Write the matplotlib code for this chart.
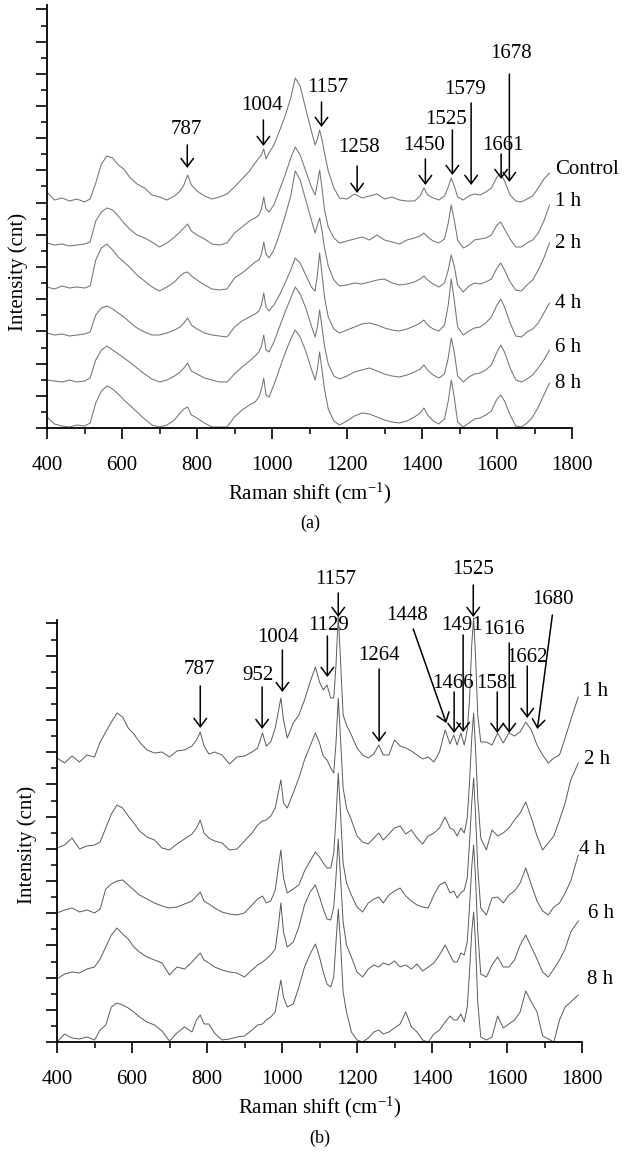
import matplotlib
matplotlib.use("Agg")
import matplotlib.pyplot as plt
from matplotlib.ticker import MultipleLocator


# 1. Panel (a): Raman shift grid and spectra (counts above each trace's own baseline)
shift_a = [400, 420, 440, 460, 480, 500, 515, 530, 545, 560,
           575, 590, 605, 620, 640, 660, 680, 700, 720, 740,
           755, 765, 775, 785, 800, 820, 840, 860, 880, 900,
           920, 940, 955, 965, 972, 978, 984, 992, 1005, 1020,
           1035, 1050, 1062, 1075, 1090, 1105, 1115, 1121, 1127, 1133,
           1140, 1150, 1165, 1180, 1200, 1220, 1240, 1260, 1280, 1300,
           1320, 1340, 1360, 1380, 1395, 1405, 1415, 1430, 1445, 1460,
           1470, 1478, 1486, 1495, 1510, 1525, 1540, 1555, 1570, 1585,
           1600, 1610, 1620, 1635, 1650, 1665, 1680, 1695, 1710, 1725,
           1740]

a_control = [9, 1, 3, 0, 2, -1, 2, 18, 37, 45,
             43, 36, 32, 24, 17, 13, 6, 4, 1, 5,
             10, 16, 26, 16, 10, 5, 2, 4, 7, 14,
             22, 30, 38, 43, 46, 52, 42, 48, 56, 70,
             85, 103, 123, 115, 92, 70, 56, 62, 71, 62,
             48, 30, 13, 3, 2, 7, 3, 5, 7, 2,
             4, 1, 0, 0, 5, 13, 6, 3, 1, 5,
             14, 23, 15, 4, 1, 5, 7, 6, 9, 13,
             24, 28, 20, 6, 0, -1, 2, 5, 13, 22,
             28]
a_1h = [2, 0, 1, -1, 0, 1, 3, 24, 33, 37,
        35, 29, 22, 16, 10, 7, 3, -2, 2, 8,
        13, 17, 21, 14, 10, 6, 1, 0, 2, 12,
        18, 24, 27, 30, 36, 48, 36, 33, 40, 55,
        70, 87, 98, 90, 74, 58, 50, 62, 75, 58,
        35, 18, 7, 2, 4, 6, 8, 5, 10, 5,
        3, 1, 5, 7, 9, 12, 8, 4, 2, 6,
        22, 40, 25, 5, -3, 0, 5, 6, 7, 10,
        20, 23, 16, 6, -2, -2, 2, 5, 12, 24,
        40]
a_2h = [1, -1, 2, 0, 1, 0, 2, 28, 40, 44,
        38, 31, 26, 21, 13, 7, 1, -3, 1, 6,
        12, 15, 16, 12, 8, 3, -1, -2, -1, 10,
        15, 21, 26, 28, 34, 46, 34, 30, 38, 54,
        72, 92, 117, 108, 88, 68, 55, 63, 70, 58,
        40, 22, 8, 2, 3, 5, 4, 6, 8, 9,
        5, 3, 4, 6, 9, 12, 8, 4, 1, 5,
        18, 33, 22, 3, -4, 2, 5, 4, 6, 9,
        20, 25, 18, 6, -2, -3, 3, 8, 18, 30,
        45]
a_4h = [2, 0, 1, -1, 0, 1, 3, 20, 27, 29,
        26, 22, 18, 13, 7, 3, 0, 0, 2, 5,
        8, 12, 17, 10, 6, 2, 0, -1, -2, 8,
        14, 18, 21, 24, 30, 42, 28, 24, 30, 40,
        52, 65, 77, 72, 60, 48, 44, 60, 82, 62,
        38, 18, 6, 2, 5, 8, 11, 12, 10, 7,
        5, 4, 6, 9, 12, 15, 10, 6, 4, 10,
        30, 56, 35, 8, 0, 4, 7, 8, 12, 18,
        30, 36, 28, 12, -1, -2, 3, 6, 12, 22,
        32]
a_6h = [2, 1, 0, 2, 0, 1, 4, 22, 32, 36,
        32, 28, 24, 20, 14, 8, 3, 0, 2, 6,
        10, 14, 19, 11, 8, 4, 2, 0, 0, 8,
        15, 21, 26, 30, 36, 47, 32, 30, 40, 55,
        70, 84, 95, 88, 74, 56, 45, 55, 72, 56,
        36, 18, 6, 3, 6, 10, 12, 14, 11, 8,
        6, 5, 7, 10, 13, 17, 12, 7, 4, 8,
        24, 44, 30, 6, 0, 5, 8, 9, 12, 17,
        30, 37, 30, 14, 2, 0, 3, 7, 14, 22,
        32]
a_8h = [10, 3, 1, 0, 2, 1, 4, 24, 36, 41,
        38, 33, 27, 22, 15, 8, 2, 0, 2, 7,
        14, 18, 20, 12, 9, 4, 0, 0, 0, 10,
        17, 22, 25, 30, 38, 49, 32, 30, 42, 58,
        74, 88, 97, 90, 76, 58, 47, 58, 75, 58,
        38, 18, 6, 2, 6, 11, 14, 13, 10, 7,
        5, 4, 6, 10, 14, 19, 12, 6, 3, 8,
        26, 47, 30, 5, 0, 4, 8, 9, 12, 16,
        28, 32, 26, 12, 1, 0, 4, 10, 20, 32,
        44]

names_a = ["Control", "1 h", "2 h", "4 h", "6 h", "8 h"]
spectra_a = [a_control, a_1h, a_2h, a_4h, a_6h, a_8h]
offsets_a = [227, 183, 140, 93, 46, 1]

peak_labels_a = ["787", "1004", "1157", "1258", "1450", "1525", "1579", "1661", "1678"]


# 2. Panel (b)
shift_b = [400, 420, 440, 460, 480, 500, 515, 530, 545, 560,
           575, 590, 605, 620, 640, 660, 680, 700, 720, 740,
           760, 772, 782, 792, 805, 820, 840, 860, 880, 900,
           920, 935, 948, 958, 970, 982, 990, 997, 1004, 1014,
           1030, 1045, 1060, 1075, 1089, 1100, 1110, 1120, 1130, 1138,
           1144, 1150, 1156, 1163, 1172, 1185, 1200, 1215, 1230, 1245,
           1258, 1270, 1285, 1300, 1315, 1330, 1345, 1360, 1375, 1390,
           1405, 1420, 1435, 1448, 1458, 1467, 1477, 1486, 1494, 1500,
           1506, 1511, 1516, 1522, 1530, 1545, 1560, 1575, 1590, 1605,
           1620, 1635, 1650, 1665, 1680, 1695, 1710, 1725, 1740, 1755,
           1770, 1790]

b_1h = [2, -3, 4, -2, 5, 3, 18, 28, 38, 47,
        43, 32, 26, 18, 10, 7, 8, 3, 9, 10,
        14, 20, 28, 14, 6, 8, 5, -4, 3, 4,
        8, 12, 27, 14, 18, 32, 48, 62, 40, 22,
        37, 45, 60, 78, 93, 78, 70, 75, 62, 62,
        95, 145, 100, 45, 35, 25, 12, 5, 2, 6,
        15, 5, 5, 20, 14, 12, 9, 5, 1, 3,
        -2, 8, 30, 16, 25, 15, 27, 15, 30, 60,
        115, 142, 105, 45, 18, 18, 15, 27, 17, 27,
        24, 28, 38, 30, 15, 5, -3, 2, 5, 22,
        40, 63]
b_2h = [0, 3, 10, -1, 2, 3, 6, 20, 34, 43,
        40, 32, 25, 17, 11, 8, 0, -2, 4, 9,
        14, 20, 28, 15, 10, 7, 5, -2, -1, 7,
        15, 23, 27, 28, 32, 40, 55, 68, 45, 40,
        55, 70, 88, 102, 115, 105, 92, 88, 80, 75,
        105, 150, 110, 60, 40, 28, 12, 6, 4, 10,
        15, 8, 14, 20, 22, 14, 18, 10, 4, 12,
        15, 20, 31, 20, 18, 12, 20, 15, 30, 65,
        110, 135, 100, 50, 10, -2, 18, 12, 15, 20,
        28, 35, 46, 30, 12, -2, 5, 12, 28, 45,
        68, 85]
b_4h = [0, 3, 5, 1, 3, 0, 4, 24, 29, 32,
        33, 28, 23, 18, 14, 10, 7, 5, 6, 9,
        12, 17, 21, 12, 9, 5, 1, -1, -2, 0,
        8, 14, 17, 10, 12, 23, 45, 63, 35, 20,
        24, 28, 42, 52, 61, 56, 50, 45, 45, 60,
        95, 140, 100, 50, 30, 18, 6, 1, 10, 14,
        16, 10, 18, 22, 25, 17, 12, 8, 6, 5,
        18, 28, 31, 20, 22, 15, 20, 23, 35, 70,
        110, 135, 100, 45, 5, -2, 15, 16, 10, 18,
        22, 30, 45, 28, 12, 2, -2, 6, 10, 20,
        32, 58]
b_6h = [-2, 3, 5, 4, 8, 10, 18, 30, 42, 49,
        43, 38, 30, 25, 20, 17, 14, 2, 10, 8,
        15, 20, 24, 17, 14, 10, 7, 5, 4, 0,
        7, 12, 15, 18, 22, 28, 50, 74, 45, 30,
        35, 50, 72, 85, 92, 80, 68, 58, 57, 70,
        100, 138, 100, 55, 32, 20, 5, 0, 8, 12,
        10, 14, 12, 16, 10, 12, 8, 13, 6, 10,
        14, 22, 32, 22, 15, 15, 24, 22, 35, 70,
        110, 132, 100, 45, 3, 0, 12, 20, 10, 10,
        17, 32, 42, 30, 18, 5, 0, 8, 17, 28,
        45, 56]
b_8h = [0, 8, 4, 3, 5, 2, 12, 17, 35, 39,
        37, 34, 30, 25, 20, 17, 11, 1, 9, 15,
        10, 22, 27, 18, 18, 9, 2, 3, 5, 6,
        12, 17, 18, 22, 25, 30, 48, 62, 45, 35,
        38, 55, 75, 88, 98, 85, 70, 58, 55, 65,
        100, 133, 100, 50, 30, 10, 2, 0, 4, 10,
        12, 8, 10, 14, 18, 30, 15, 10, 2, 0,
        8, 12, 20, 26, 22, 22, 28, 20, 35, 70,
        110, 130, 100, 40, 5, 2, 5, 26, 14, 18,
        22, 30, 51, 40, 30, 6, 3, 0, 22, 35,
        40, 47]

names_b = ["1 h", "2 h", "4 h", "6 h", "8 h"]
spectra_b = [b_1h, b_2h, b_4h, b_6h, b_8h]
offsets_b = [282, 194, 129, 65, 0]

peak_labels_b = ["787", "952", "1004", "1129", "1157", "1264", "1448",
                 "1466", "1491", "1525", "1581", "1616", "1662", "1680"]


# 3. Annotation placement (arrow tip, arrow tail, text centre)
tip_a = [(774, 260), (977, 282), (1132, 301), (1227, 235), (1409, 243),
         (1481, 253), (1531, 243), (1611, 249), (1633, 246)]
tail_a = [(774, 283), (977, 308), (1132, 326), (1227, 262), (1409, 269),
          (1481, 298), (1531, 325), (1611, 274), (1633, 354)]
text_a = [(772, 299), (974, 323), (1148, 341), (1233, 281), (1406, 283),
          (1465, 308), (1515, 338), (1617, 283), (1638, 375)]
name_pos_a = [(1755, 259), (1755, 226), (1755, 185), (1755, 125), (1755, 81), (1755, 45)]

tip_b = [(782, 314), (947, 313), (1001, 350), (1121, 365), (1150, 425), (1259, 300),
         (1438, 319), (1459, 309), (1483, 310), (1510, 425), (1574, 309),
         (1606, 309), (1654, 324), (1681, 313)]
tail_b = [(782, 356), (947, 355), (1001, 392), (1121, 406), (1150, 449), (1259, 373),
          (1350, 413), (1459, 350), (1483, 407), (1510, 457), (1574, 350),
          (1606, 399), (1654, 376), (1721, 427)]
text_b = [(779, 373), (937, 367), (990, 404), (1123, 417), (1142, 462), (1259, 386),
          (1334, 427), (1457, 359), (1481, 417), (1510, 472), (1572, 359),
          (1593, 413), (1652, 385), (1723, 442)]
name_pos_b = [(1801, 350), (1804, 282), (1793, 192), (1817, 129), (1814, 62)]


# 4. Style
plt.rcParams["font.family"] = "Liberation Serif"
plt.rcParams["mathtext.fontset"] = "custom"
plt.rcParams["mathtext.rm"] = "Liberation Serif"
plt.rcParams["mathtext.it"] = "Liberation Serif:italic"
FS = 15

fig = plt.figure(figsize=(6.33, 11.53), dpi=100)
ax_a = fig.add_axes([47 / 633, 1 - 428 / 1153, 525 / 633, 423 / 1153])
ax_b = fig.add_axes([57 / 633, 1 - 1042 / 1153, 525 / 633, 422 / 1153])


def style_axis(ax, ytop):
    ax.set_xlim(400, 1800)
    ax.set_ylim(0, ytop)
    for side in ["top", "right"]:
        ax.spines[side].set_visible(False)
    for side in ["left", "bottom"]:
        ax.spines[side].set_linewidth(1.3)
    ax.xaxis.set_major_locator(MultipleLocator(200))
    ax.xaxis.set_minor_locator(MultipleLocator(100))
    ax.yaxis.set_major_locator(MultipleLocator(32.2))
    ax.yaxis.set_minor_locator(MultipleLocator(16.1))
    ax.tick_params(which="major", direction="out", length=8, width=1.2, labelsize=FS, pad=12)
    ax.tick_params(which="minor", direction="out", length=4, width=1.1)
    ax.tick_params(axis="y", labelleft=False)
    ax.set_xlabel(r"Raman shift (cm$^{-1}$)", fontsize=FS, labelpad=4)
    ax.set_ylabel("Intensity (cnt)", fontsize=FS)


def draw_arrows(ax, labels, tips, tails, texts):
    for lab, tip, tail, txt in zip(labels, tips, tails, texts):
        ax.annotate("", xy=tip, xytext=tail, annotation_clip=False,
                    arrowprops=dict(arrowstyle="->,head_length=0.6,head_width=0.45",
                                    lw=1.1, color="black", shrinkA=0, shrinkB=0))
        ax.text(txt[0], txt[1], lab, ha="center", va="center", fontsize=FS, clip_on=False)


# 5. Panel (a)
for vals, off in zip(spectra_a, offsets_a):
    ax_a.plot(shift_a, [v + off for v in vals], color="#747474", lw=0.75)
for name, pos in zip(names_a, name_pos_a):
    ax_a.text(pos[0], pos[1], name, ha="left", va="center", fontsize=FS, clip_on=False)
draw_arrows(ax_a, peak_labels_a, tip_a, tail_a, text_a)
style_axis(ax_a, 423)
ax_a.yaxis.set_label_coords(-0.036, 0.37)

# 6. Panel (b)
for vals, off in zip(spectra_b, offsets_b):
    ax_b.plot(shift_b, [v + off for v in vals], color="#5a5a5a", lw=0.7, clip_on=False)
for name, pos in zip(names_b, name_pos_b):
    ax_b.text(pos[0], pos[1], name, ha="left", va="center", fontsize=FS, clip_on=False)
draw_arrows(ax_b, peak_labels_b, tip_b, tail_b, text_b)
style_axis(ax_b, 422)
ax_b.yaxis.set_label_coords(-0.038, 0.467)

fig.text(310 / 633, 1 - 523 / 1153, "(a)", ha="center", va="center", fontsize=FS - 2)
fig.text(320 / 633, 1 - 1138 / 1153, "(b)", ha="center", va="center", fontsize=FS - 2)

fig.savefig("out.png", dpi=100)
